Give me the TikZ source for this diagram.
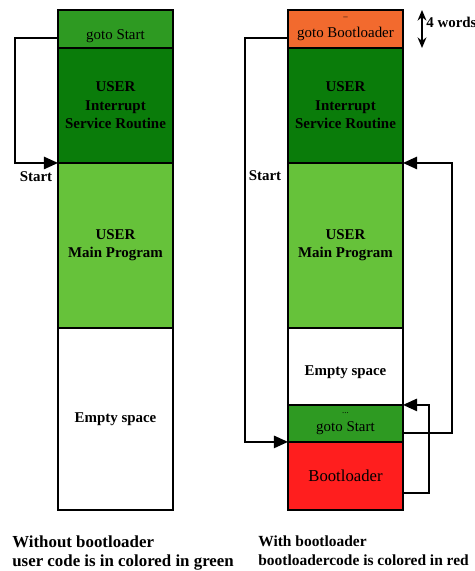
\documentclass[tikz,border=0pt]{standalone}
\usepackage{fontspec}
\setmainfont{Liberation Serif}
\usetikzlibrary{arrows.meta,calc,positioning}
\definecolor{GotoGreen}{HTML}{2E9A22}
\definecolor{IsrGreen}{HTML}{0A7C0A}
\definecolor{MainGreen}{HTML}{66C23A}
\definecolor{BootOrange}{HTML}{F26A2E}
\definecolor{BootRed}{HTML}{FF1E1E}

\begin{document}
\begin{tikzpicture}[x=0.02cm,y=-0.02cm,>={Triangle[length=8pt,width=7pt]},
  block/.style={draw,line width=1pt,minimum width=2.3cm,inner sep=0pt,outer sep=0pt,align=center,font=\fontsize{8.5}{10.5}\selectfont},
  bold/.style={font=\fontsize{8.5}{10.5}\selectfont\bfseries},
  caption/.style={anchor=north west,align=left,inner sep=0pt,font=\fontsize{8.8}{10.8}\selectfont\bfseries},
  conn/.style={line width=1pt,->}]
  \useasboundingbox (0,0) rectangle (474,571);
  % without bootloader
  \node[block,fill=GotoGreen,minimum height=0.76cm,anchor=north west] (gotoA) at (58,10) {\raisebox{-6pt}[0pt][0pt]{goto Start}};
  \node[block,bold,fill=IsrGreen,minimum height=2.3cm,below=0pt of gotoA] (isrA) {USER\\Interrupt\\Service Routine};
  \node[block,bold,fill=MainGreen,minimum height=3.3cm,below=0pt of isrA] (mainA) {USER\\Main Program};
  \node[block,bold,fill=white,minimum height=3.64cm,below=0pt of mainA] (emptyA) {Empty space};
  \draw[conn] ($(gotoA.south west)+(0,-10)$) -- ++(-43,0) |- (isrA.south west);
  \node[bold] (startA) at (36,177) {Start};
  % with bootloader
  \node[block,fill=BootOrange,minimum height=0.76cm,anchor=north west] (gotoB) at (288,10) {{\tiny --}\\goto Bootloader};
  \node[block,bold,fill=IsrGreen,minimum height=2.3cm,below=0pt of gotoB] (isrB) {USER\\Interrupt\\Service Routine};
  \node[block,bold,fill=MainGreen,minimum height=3.3cm,below=0pt of isrB] (mainB) {USER\\Main Program};
  \node[block,bold,fill=white,minimum height=1.54cm,below=0pt of mainB] (emptyB) {\raisebox{-5pt}[0pt][0pt]{Empty space}};
  \node[block,fill=GotoGreen,minimum height=0.74cm,below=0pt of emptyB] (gotoS) {{\tiny ...}\\goto Start};
  \node[block,fill=BootRed,minimum height=1.36cm,below=0pt of gotoS,font=\fontsize{9.5}{11}\selectfont] (bootB) {Bootloader};
  \draw[conn] ($(gotoB.south west)+(0,-10)$) -- ++(-43,0) |- (bootB.north west);
  \draw[conn] ($(gotoS.south east)+(0,-9)$) -- ++(49,0) |- (isrB.south east);
  \draw[conn] ($(bootB.south east)+(0,-17)$) -- ++(26,0) |- (emptyB.south east);
  \node[bold] (startB) at (265,176) {Start};
  % word count
  \coordinate (wtop) at (422,10);
  \coordinate (wbot) at (422,48);
  \draw[{Stealth[length=6pt,width=5pt]}-{Stealth[length=6pt,width=5pt]},line width=1.2pt] (wtop) -- (wbot);
  \node[bold,anchor=west,inner sep=0pt] (words) at (426,22) {4 words};
  % captions
  \node[caption,font=\fontsize{9.6}{10.8}\selectfont\bfseries] (capA) at (12,535) {Without bootloader\\user code is in colored in green};
  \node[caption] (capB) at (258,535) {With bootloader\\bootloadercode is colored in red};
\end{tikzpicture}
\end{document}
